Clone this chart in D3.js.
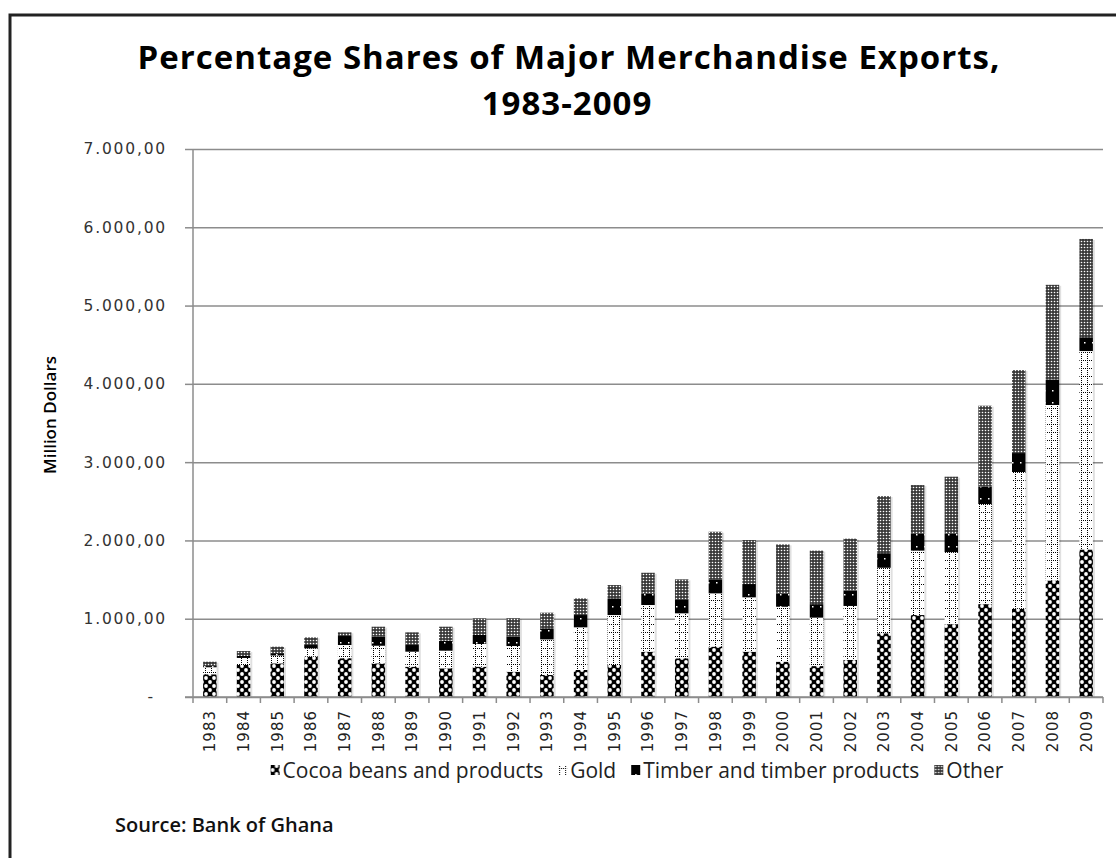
<!DOCTYPE html>
<html>
<head>
<meta charset="utf-8">
<script src="https://cdn.jsdelivr.net/npm/d3@7"></script>
<style>
  body { margin: 0; background: #fff; }
</style>
</head>
<body>
<div id="chart"></div>
<script>
// Values (million dollars)
const years = ["1983","1984","1985","1986","1987","1988","1989","1990","1991","1992","1993","1994","1995","1996","1997","1998","1999","2000","2001","2002","2003","2004","2005","2006","2007","2008","2009"];
const cocoa  = [290, 409, 430, 515, 495, 430, 387, 366, 387, 323, 281, 345, 409, 579, 494, 643, 579, 451, 395, 474, 814, 1047, 930, 1186, 1126, 1488, 1884];
const gold   = [90, 90, 100, 107, 169, 225, 192, 226, 290, 328, 455, 545, 638, 596, 575, 681, 694, 702, 619, 689, 837, 823, 921, 1279, 1748, 2242, 2535];
const timber = [15, 25, 30, 42, 115, 115, 85, 127, 115, 120, 141, 157, 213, 148, 179, 179, 170, 171, 172, 195, 186, 214, 233, 223, 242, 326, 176];
const other  = [56, 63, 83, 98, 47, 128, 162, 179, 213, 235, 200, 213, 170, 264, 255, 608, 562, 626, 684, 665, 730, 623, 730, 1033, 1061, 1209, 1256];

const seriesKeys = ["cocoa", "gold", "timber", "other"];
const seriesNames = ["Cocoa beans and products", "Gold", "Timber and timber products", "Other"];
const yTicks = [0, 1000, 2000, 3000, 4000, 5000, 6000, 7000];

const width = 1116, height = 858;
const plotLeft = 193, plotRight = 1103, plotTop = 149, plotBottom = 697;

const svg = d3.select("#chart").append("svg")
  .attr("width", width)
  .attr("height", height);

// Fill patterns that mimic the black and white hatches
const defs = svg.append("defs");

const pCocoa = defs.append("pattern").attr("id", "p-cocoa")
  .attr("patternUnits", "userSpaceOnUse").attr("width", 8).attr("height", 8);
pCocoa.append("rect").attr("width", 8).attr("height", 8).attr("fill", "#000");
[[2, 2], [6, 6]].forEach(([cx, cy]) =>
  pCocoa.append("circle").attr("cx", cx).attr("cy", cy).attr("r", 1.9).attr("fill", "#fff"));

const pGold = defs.append("pattern").attr("id", "p-gold")
  .attr("patternUnits", "userSpaceOnUse").attr("width", 6).attr("height", 8);
pGold.append("rect").attr("width", 6).attr("height", 8).attr("fill", "#fff");
[0, 2, 4, 6].forEach(yy =>
  pGold.append("rect").attr("x", 1).attr("y", yy).attr("width", 1).attr("height", 1).attr("fill", "#000"));
[3, 5].forEach(xx =>
  pGold.append("rect").attr("x", xx).attr("y", 0).attr("width", 1).attr("height", 1).attr("fill", "#000"));

const pTimber = defs.append("pattern").attr("id", "p-timber")
  .attr("patternUnits", "userSpaceOnUse").attr("width", 8).attr("height", 12);
pTimber.append("rect").attr("width", 8).attr("height", 12).attr("fill", "#000");
pTimber.append("rect").attr("x", 4).attr("y", 6).attr("width", 1.5).attr("height", 1.5).attr("fill", "#fff");

const pOther = defs.append("pattern").attr("id", "p-other")
  .attr("patternUnits", "userSpaceOnUse").attr("width", 3).attr("height", 3);
pOther.append("rect").attr("width", 3).attr("height", 3).attr("fill", "#3a3a3a");
pOther.append("circle").attr("cx", 1.5).attr("cy", 1.5).attr("r", 0.8).attr("fill", "#fff");

const fills = { cocoa: "url(#p-cocoa)", gold: "url(#p-gold)", timber: "url(#p-timber)", other: "url(#p-other)" };

// Outer frame (runs off the right and bottom edges)
svg.append("path")
  .attr("d", `M10,${height + 5} V15 H${width + 5}`)
  .attr("fill", "none")
  .attr("stroke", "#222")
  .attr("stroke-width", 3);

// Title, two lines
const titleFont = { family: "'Open Sans', sans-serif", size: 33 };
svg.append("text")
  .attr("x", 569).attr("y", 69)
  .attr("text-anchor", "middle")
  .attr("font-family", titleFont.family)
  .attr("font-weight", 700)
  .attr("font-size", titleFont.size)
  .attr("letter-spacing", 1)
  .attr("fill", "#000")
  .text("Percentage Shares of Major Merchandise Exports,");
svg.append("text")
  .attr("x", 567).attr("y", 115)
  .attr("text-anchor", "middle")
  .attr("font-family", titleFont.family)
  .attr("font-weight", 700)
  .attr("font-size", titleFont.size)
  .attr("letter-spacing", 1)
  .attr("fill", "#000")
  .text("1983-2009");

// Scales
const x = d3.scaleBand().domain(years).range([plotLeft, plotRight]).paddingInner(0.6).paddingOuter(0.3);
const y = d3.scaleLinear().domain([0, 7000]).range([plotBottom, plotTop]);

// Gridlines
svg.append("g")
  .attr("transform", `translate(${plotLeft},0)`)
  .call(d3.axisLeft(y).tickValues(yTicks).tickSize(-(plotRight - plotLeft)).tickFormat(""))
  .call(g => g.select(".domain").remove())
  .call(g => g.selectAll(".tick line").attr("stroke", "#8c8c8c").attr("stroke-width", 1.5));

// Y axis with labels
const locale = d3.formatLocale({ decimal: ",", thousands: ".", grouping: [3], currency: ["", ""] });
const fmt = locale.format(",.2f");

svg.append("g")
  .attr("transform", `translate(${plotLeft},0)`)
  .call(d3.axisLeft(y).tickValues(yTicks).tickSize(8).tickPadding(18)
    .tickFormat(d => d === 0 ? "-" : fmt(d)))
  .call(g => g.select(".domain").attr("stroke", "#8c8c8c").attr("stroke-width", 1.5)
    .attr("d", `M0,${plotBottom}V${plotTop}`))
  .call(g => g.selectAll(".tick line").attr("stroke", "#8c8c8c").attr("stroke-width", 1.5))
  .call(g => g.selectAll(".tick text")
    .attr("font-family", "'DejaVu Sans', sans-serif")
    .attr("font-size", 15.5)
    .attr("letter-spacing", 1.8)
    .attr("fill", "#333")
    .attr("dx", d => d === 0 ? -12 : 0));

// Y axis title
svg.append("text")
  .attr("transform", "translate(56,415) rotate(-90)")
  .attr("text-anchor", "middle")
  .attr("font-family", "'Open Sans', sans-serif")
  .attr("font-weight", 600)
  .attr("font-size", 17)
  .attr("fill", "#000")
  .text("Million Dollars");

// Stacked bars
const table = years.map((yr, i) => ({
  year: yr, cocoa: cocoa[i], gold: gold[i], timber: timber[i], other: other[i]
}));
const stacked = d3.stack().keys(seriesKeys)(table);
const total = d => d.cocoa + d.gold + d.timber + d.other;

// soft shadow behind each bar
svg.append("g")
  .selectAll("rect")
  .data(table)
  .join("rect")
  .attr("x", d => x(d.year) + 2)
  .attr("y", d => y(total(d)) + 1)
  .attr("width", x.bandwidth())
  .attr("height", d => plotBottom - y(total(d)))
  .attr("fill", "#000")
  .attr("opacity", 0.12);

svg.append("g")
  .selectAll("g")
  .data(stacked)
  .join("g")
  .attr("fill", d => fills[d.key])
  .selectAll("rect")
  .data(d => d)
  .join("rect")
  .attr("x", d => x(d.data.year))
  .attr("y", d => y(d[1]))
  .attr("width", x.bandwidth())
  .attr("height", d => y(d[0]) - y(d[1]));

// X axis line, boundary ticks and year labels
const xAxis = svg.append("g");
xAxis.append("line")
  .attr("x1", plotLeft - 8).attr("x2", plotRight)
  .attr("y1", plotBottom).attr("y2", plotBottom)
  .attr("stroke", "#8c8c8c").attr("stroke-width", 1.5);
xAxis.selectAll(".bt")
  .data(d3.range(years.length + 1))
  .join("line")
  .attr("class", "bt")
  .attr("x1", i => plotLeft + i * x.step()).attr("x2", i => plotLeft + i * x.step())
  .attr("y1", plotBottom).attr("y2", plotBottom + 6)
  .attr("stroke", "#8c8c8c").attr("stroke-width", 1.5);
xAxis.selectAll(".yl")
  .data(years)
  .join("text")
  .attr("class", "yl")
  .attr("transform", d => `translate(${x(d) + x.bandwidth() / 2},710) rotate(-90)`)
  .attr("text-anchor", "end")
  .attr("dy", "0.36em")
  .attr("font-family", "'DejaVu Sans', sans-serif")
  .attr("font-size", 15)
  .attr("letter-spacing", 1)
  .attr("fill", "#222")
  .text(d => d);

// Legend, laid out from measured text widths and centred
const legend = svg.append("g");
const items = legend.selectAll("g")
  .data(seriesKeys)
  .join("g");
items.append("rect")
  .attr("y", 765).attr("width", 9).attr("height", 10)
  .attr("fill", d => fills[d]);
items.append("text")
  .attr("x", 12).attr("y", 778)
  .attr("font-family", "'Open Sans', sans-serif")
  .attr("font-size", 21)
  .attr("fill", "#222")
  .text((d, i) => seriesNames[i]);
let cursor = 0;
const offsets = [];
items.each(function() {
  offsets.push(cursor);
  const w = d3.select(this).select("text").node().getComputedTextLength();
  cursor += 12 + w + 15;
});
const legendWidth = cursor - 15;
const legendStart = 637 - legendWidth / 2;
items.attr("transform", (d, i) => `translate(${legendStart + offsets[i]},0)`);

// Source note
svg.append("text")
  .attr("x", 115).attr("y", 832)
  .attr("font-family", "'Open Sans', sans-serif")
  .attr("font-weight", 600)
  .attr("font-size", 20)
  .attr("fill", "#111")
  .text("Source: Bank of Ghana");
</script>
</body>
</html>
